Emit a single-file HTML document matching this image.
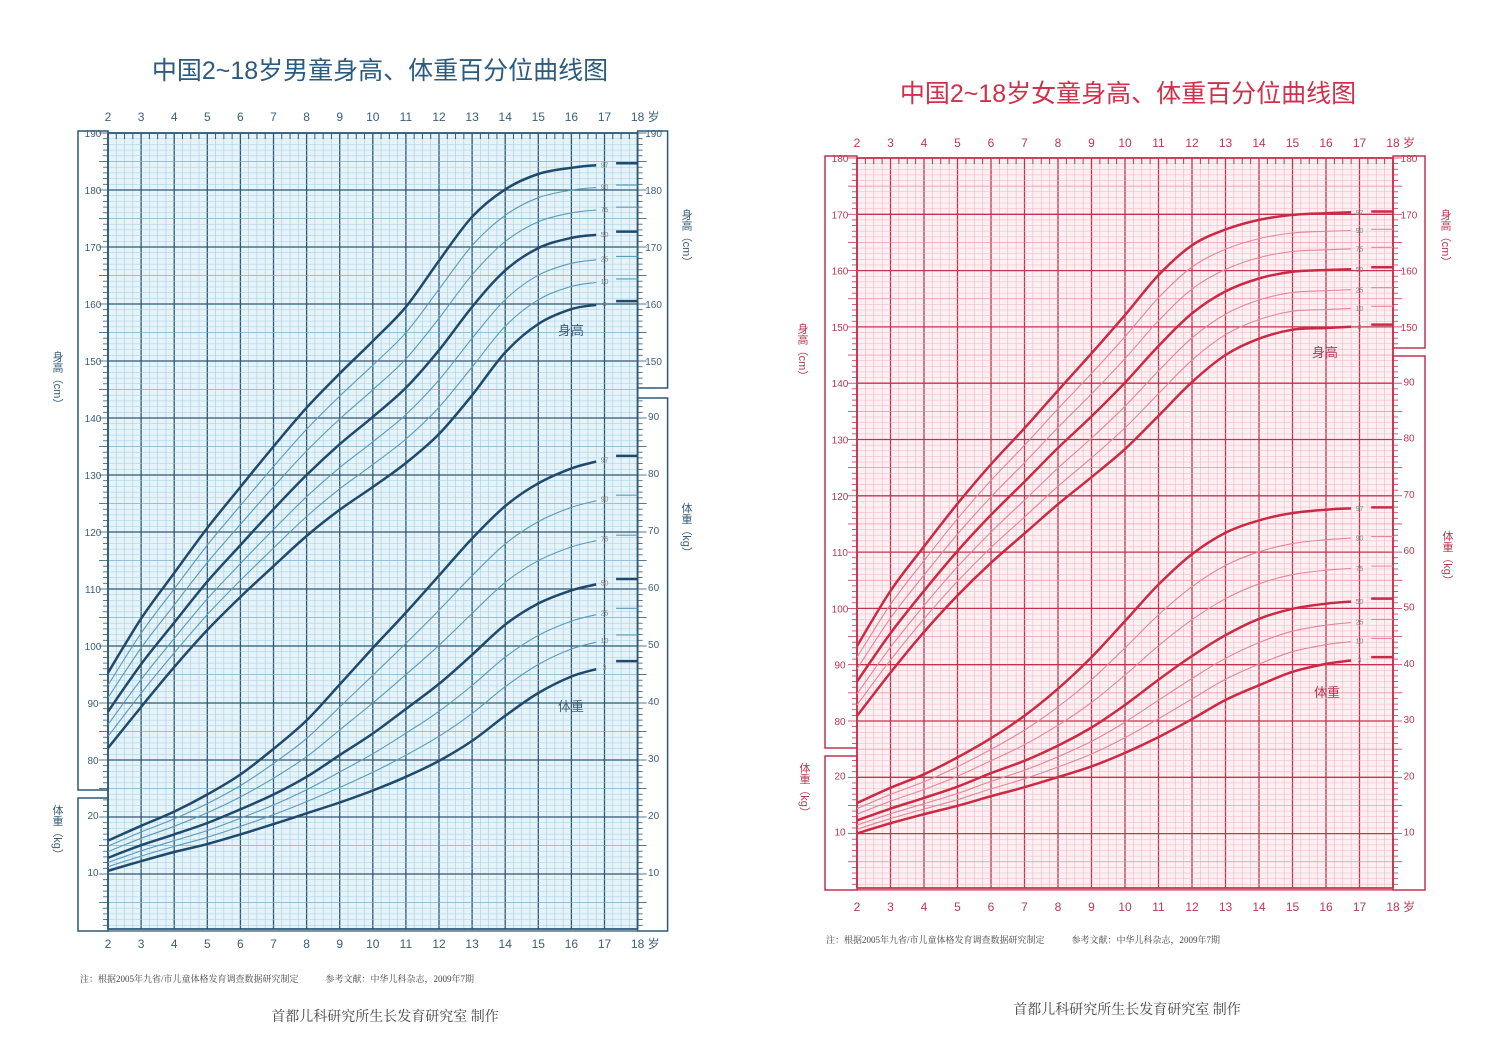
<!DOCTYPE html>
<html><head><meta charset="utf-8">
<style>
html,body{margin:0;padding:0;background:#fff;width:1500px;height:1040px;overflow:hidden}
svg{display:block}
text{font-family:"Liberation Sans","Noto Sans CJK SC",sans-serif}
.s{font-family:"Liberation Serif","Noto Serif CJK SC",serif}
</style></head><body>
<svg id="c" width="1500" height="1040" viewBox="0 0 1500 1040" xmlns="http://www.w3.org/2000/svg">
<text x="380" y="79" font-size="25" fill="#2b5b7e" text-anchor="middle" font-family="Liberation Sans,Noto Sans CJK SC,sans-serif">中国2~18岁男童身高、体重百分位曲线图</text>
<text x="1128" y="102" font-size="25" fill="#d0304a" text-anchor="middle" font-family="Liberation Sans,Noto Sans CJK SC,sans-serif">中国2~18岁女童身高、体重百分位曲线图</text>
<text class="s" x="80" y="982" font-size="9" fill="#444">注：根据2005年九省/市儿童体格发育调查数据研究制定　　　参考文献：中华儿科杂志，2009年7期</text>
<text class="s" x="385" y="1021" font-size="14" fill="#444" text-anchor="middle">首都儿科研究所生长发育研究室  制作</text>
<text class="s" x="826" y="943" font-size="9" fill="#444">注：根据2005年九省/市儿童体格发育调查数据研究制定　　　参考文献：中华儿科杂志，2009年7期</text>
<text class="s" x="1127" y="1014" font-size="14" fill="#444" text-anchor="middle">首都儿科研究所生长发育研究室  制作</text>
<g id="g"></g>
</svg>
<script>
var out="";
function L(x1,y1,x2,y2,c,w){out+='<line x1="'+x1+'" y1="'+y1+'" x2="'+x2+'" y2="'+y2+'" stroke="'+c+'" stroke-width="'+w+'"/>';}
function T(x,y,s,sz,c,a,extra){out+='<text x="'+x+'" y="'+y+'" font-size="'+sz+'" fill="'+c+'" text-anchor="'+(a||"middle")+'" '+(extra||"")+'>'+s+'</text>';}
function R(x,y,w,h,f,s,sw){out+='<rect x="'+x+'" y="'+y+'" width="'+w+'" height="'+h+'" fill="'+f+'" stroke="'+s+'" stroke-width="'+sw+'"/>';}
var Z={3:-1.88,10:-1.28,25:-0.67,50:0,75:0.67,90:1.28,97:1.88};
function pct(p3,p50,p97,p){var z=Z[p];return p3.map(function(v,i){return z<0?p50[i]+(p50[i]-v)*z/1.88:p50[i]+(p97[i]-p50[i])*z/1.88;});}
function path(pts){var d="M"+pts[0][0].toFixed(1)+","+pts[0][1].toFixed(1);
 for(var i=0;i<pts.length-1;i++){var p0=pts[Math.max(0,i-1)],p1=pts[i],p2=pts[i+1],p3=pts[Math.min(pts.length-1,i+2)];
 d+=" C"+(p1[0]+(p2[0]-p0[0])/6).toFixed(1)+","+(p1[1]+(p2[1]-p0[1])/6).toFixed(1)+" "+(p2[0]-(p3[0]-p1[0])/6).toFixed(1)+","+(p2[1]-(p3[1]-p1[1])/6).toFixed(1)+" "+p2[0].toFixed(1)+","+p2[1].toFixed(1);}
 return d;}
function chart(o){
 var X=function(a){return o.x0+(a-2)*o.dx;};
 var x18=X(18);
 R(o.x0,o.top,x18-o.x0,o.bot-o.top,o.bg,"none",0);
 for(var a=2;a<=18.001;a+=0.25){var maj=Math.abs(a-Math.round(a))<0.01;L(X(a),o.top,X(a),o.bot,maj?o.major:o.minor,maj?1.3:0.6);}
 var n=Math.round((o.bot-o.top)/o.k);
 for(var i=0;i<=n;i++){var y=o.top+i*o.k;var maj=i%10==0,mid=i%5==0;L(o.x0,y,x18,y,maj?o.major:(mid?o.mid:o.minor),maj?1.3:(mid?0.7:0.5));}
 for(var a=2;a<18;a+=0.25){L(X(a),o.top,X(a),o.top+6,o.major,1);}
 var lw=o.x0-o.lx;
 R(o.lx,o.lb[0],lw,o.lb[1]-o.lb[0],"#fff",o.major,1.5);
 R(o.lx,o.lb[2],lw,o.lb[3]-o.lb[2],"#fff",o.major,1.5);
 R(x18,o.rb[0],lw,o.rb[1]-o.rb[0],"#fff",o.major,1.5);
 R(x18,o.rb[2],lw,o.rb[3]-o.rb[2],"#fff",o.major,1.5);
 L(o.x0,o.top,o.x0,o.bot,o.major,1.8);L(x18,o.top,x18,o.bot,o.major,1.8);
 L(o.x0,o.bot,x18,o.bot,o.major,1.8);L(o.x0,o.top,x18,o.top,o.major,1.8);
 var HY=function(h){return o.top+(o.hmax-h)*o.k;},WY=function(w){return o.w0-w*o.k;};
 for(var i=0;i<=n;i++){var y=o.top+i*o.k;if((y>o.lb[0]&&y<o.lb[1])||(y>o.lb[2]&&y<o.lb[3])){L(o.x0-(i%5==0?9:5),y,o.x0,y,o.major,0.8);}
   if((y>o.rb[0]&&y<o.rb[1])||(y>o.rb[2]&&y<o.rb[3])){L(x18,y,x18+(i%5==0?9:5),y,o.major,0.8);}}
 for(var h=o.hmax;h>=80;h-=10){var y=HY(h);if(y<o.lb[1]){T(o.lx+15,y+4,h,10,o.lab);} if(y<o.rb[1])T(x18+16,y+4,h,10,o.lab);}
 for(var w=10;w<=90;w+=10){var y=WY(w);if(y>o.lb[2])T(o.lx+15,y+4,w,10,o.lab);if(y>o.rb[2])T(x18+16,y+4,w,10,o.lab);}
 for(var a=2;a<=18;a++){T(X(a),o.ty,a,12,o.lab);T(X(a),o.by,a,12,o.lab);}
 T(X(18)+16,o.ty,"岁",12,o.lab,"middle");T(X(18)+16,o.by,"岁",12,o.lab,"middle");
 var ages=[];for(var a=2;a<=18;a++)ages.push(a);
 [[o.H,HY],[o.W,WY]].forEach(function(S){
  [3,10,25,50,75,90,97].forEach(function(p){
   var v=pct(S[0][0],S[0][1],S[0][2],p);var thick=(p==3||p==50||p==97);
   var pts=[];for(var i=0;i<15;i++)pts.push([X(ages[i]),S[1](v[i])]);
   pts.push([X(16.75),S[1](v[14]+(v[15]-v[14])*0.75)]);
   out+='<path d="'+path(pts)+'" fill="none" stroke="'+(thick?o.cv:o.cvt)+'" stroke-width="'+(thick?2.5:1.1)+'"/>';
   var yl=S[1](v[15]);T(X(17),yl+3,p,7,"#888");
   L(X(17.35),S[1](v[16]),X(18),S[1](v[16]),thick?o.cv:o.cvt,thick?2.5:1.1);
  });});
 T(o.lab1[0],o.lab1[1],"身高",13,o.lab);T(o.lab2[0],o.lab2[1],"体重",13,o.lab);
 o.vl.forEach(function(q){T(q[0],q[1],q[2],11,o.lab,"middle",'style="writing-mode:vertical-rl"');});
}
chart({x0:108,dx:33.1,top:133,bot:929,k:5.7,hmax:190,w0:929,lx:78,lb:[131,790,798,931],rb:[131,388,398,931],
 bg:"#e6f3f9",minor:"#a3cfe3",mid:"#7fb2cc",major:"#2c5877",lab:"#3b5e78",cv:"#1f4a6d",cvt:"#5a9aba",ty:121,by:948,
 lab1:[571,335],lab2:[571,711],vl:[[57,380,"身高（cm）"],[57,832,"体重（kg）"],[686,238,"身高（cm）"],[686,530,"体重（kg）"]],
 H:[[82.1,89.3,96.3,102.8,108.6,114.0,119.3,123.9,127.9,132.1,137.2,144.0,151.5,156.5,159.1,160.1,160.5],
    [88.5,96.8,104.1,111.3,117.7,124.0,130.0,135.4,140.2,145.3,151.9,159.5,165.9,169.8,171.6,172.3,172.7],
    [95.3,104.8,112.8,120.7,127.9,135.0,141.8,147.8,153.5,159.5,167.6,175.3,180.1,182.8,183.9,184.5,184.7]],
 W:[[10.2,11.9,13.5,14.9,16.6,18.4,20.3,22.2,24.3,26.7,29.5,33.0,37.4,41.4,44.3,46.0,47.0],
    [12.5,14.7,16.6,18.6,21.0,23.6,26.7,30.5,34.3,38.6,43.0,48.1,53.4,57.1,59.4,60.8,61.4],
    [15.5,18.1,20.6,23.6,27.1,31.6,36.6,42.9,49.3,55.5,62.0,68.5,74.2,78.2,80.8,82.4,83.0]]});
chart({x0:857,dx:33.5,top:158,bot:888,k:5.63,hmax:180,w0:888,lx:825,lb:[156,748,756,890],rb:[156,348,356,890],
 bg:"#fdf0f3",minor:"#f2b5c2",mid:"#e690a3",major:"#c4324e",lab:"#b83a52",cv:"#cc2a44",cvt:"#e48797",ty:147,by:911,
 lab1:[1325,357],lab2:[1327,697],vl:[[802,352,"身高（cm）"],[804,790,"体重（kg）"],[1445,238,"身高（cm）"],[1447,558,"体重（kg）"]],
 H:[[80.9,88.6,95.8,102.3,108.1,113.3,118.5,123.3,128.3,134.2,140.2,145.0,147.9,149.5,149.8,150.1,150.4],
    [87.0,95.6,103.1,110.2,116.6,122.5,128.5,134.1,140.1,146.6,152.4,156.3,158.6,159.8,160.1,160.3,160.6],
    [93.3,103.1,111.0,118.6,125.6,132.0,138.7,145.3,152.1,159.2,164.5,167.3,169.0,169.9,170.2,170.4,170.5]],
 W:[[9.7,11.5,13.1,14.6,16.3,17.9,19.7,21.6,24.0,26.8,30.0,33.4,36.0,38.4,39.8,40.6,41.0],
    [12.0,14.1,16.0,18.0,20.4,22.6,25.3,28.5,32.5,37.0,41.2,44.9,47.8,49.6,50.5,51.0,51.4],
    [15.1,17.8,20.2,23.2,26.6,30.6,35.4,41.0,47.4,53.9,59.3,63.1,65.3,66.6,67.2,67.5,67.6]]});
document.getElementById("g").innerHTML=out;
</script>
</body></html>
